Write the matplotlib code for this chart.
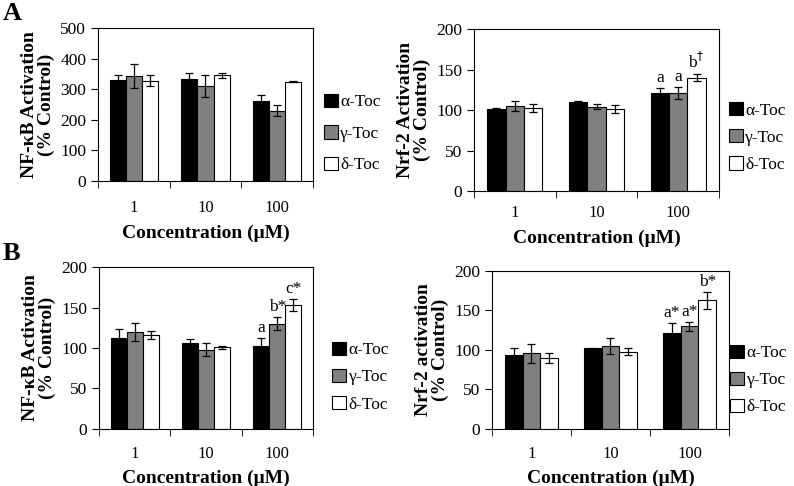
import matplotlib.pyplot as plt
import numpy as np
from matplotlib.ticker import FixedLocator, NullFormatter

plt.rcParams["font.family"] = ["Liberation Serif", "DejaVu Serif"]

concentrations = ["1", "10", "100"]
series = ["α-Toc", "γ-Toc", "δ-Toc"]
colors = ["black", "#808080", "white"]

# panel A, NF-kB
a_nfkb = [[330, 333, 260], [343, 310, 230], [327, 345, 325]]
a_nfkb_err = [[17, 20, 20], [40, 37, 18], [18, 7, 3]]
# panel A, Nrf-2
a_nrf2 = [[101, 110, 121], [105, 104, 121], [103, 101, 140]]
a_nrf2_err = [[1, 1, 6], [6, 3, 7], [5, 5, 4]]
a_nrf2_marks = [[None, None, "a"], [None, None, "a"], [None, None, "b$^{\\dagger}$"]]
# panel B, NF-kB
b_nfkb = [[112, 106, 102], [120, 98, 130], [116, 101, 153]]
b_nfkb_err = [[11, 5, 10], [11, 8, 8], [5, 2, 7]]
b_nfkb_marks = [[None, None, "a"], [None, None, "b*"], [None, None, "c*"]]
# panel B, Nrf-2
b_nrf2 = [[94, 102, 122], [96, 105, 130], [90, 98, 163]]
b_nrf2_err = [[8, 1, 12], [12, 10, 6], [6, 4, 11]]
b_nrf2_marks = [[None, None, "a*"], [None, None, "a*"], [None, None, "b*"]]


def panel(fig, rect, vals, errs, ymax, nticks, ylabel, marks=None,
          leg_x=1.05, leg_y=0.32, leg_space=0.6, xpad=12):
    ax = fig.add_axes(rect)
    x = np.arange(len(concentrations))
    w = 0.225
    for i in range(3):
        xs = x + (i - 1) * w
        ax.bar(xs, vals[i], w, color=colors[i], edgecolor="black", linewidth=0.8,
               label=series[i], zorder=2)
        ax.errorbar(xs, vals[i], yerr=errs[i], fmt="none", ecolor="black",
                    elinewidth=0.9, capsize=3, capthick=0.9, zorder=3)
        if marks:
            for j, m in enumerate(marks[i]):
                if m:
                    ax.text(xs[j], vals[i][j] + errs[i][j] + ymax * 0.012, m,
                            ha="center", va="bottom", fontsize=12.5)
    ax.set_xlim(-0.5, 2.5)
    ax.set_ylim(0, ymax)
    ax.set_yticks(np.linspace(0, ymax, nticks))
    ax.set_xticks(x)
    ax.set_xticklabels(concentrations, fontsize=12)
    ax.xaxis.set_minor_locator(FixedLocator([-0.5, 0.5, 1.5, 2.5]))
    ax.xaxis.set_minor_formatter(NullFormatter())
    ax.tick_params(axis="x", which="major", length=0, pad=xpad)
    ax.tick_params(axis="x", which="minor", length=5, direction="out")
    ax.tick_params(axis="y", length=5, direction="out", labelsize=12.5)
    ax.set_xlabel("Concentration (μM)", fontsize=14, fontweight="bold", labelpad=6)
    ax.set_ylabel(ylabel, fontsize=14, fontweight="bold", linespacing=0.95,
                  labelpad=4)
    for s in ax.spines.values():
        s.set_linewidth(0.8)
    ax.legend(loc="center left", bbox_to_anchor=(leg_x, leg_y), frameon=False,
              handlelength=0.8, handleheight=0.8, handletextpad=0.15,
              labelspacing=leg_space, fontsize=12.5, borderpad=0,
              borderaxespad=0)
    return ax


fig = plt.figure(figsize=(7.94, 4.86), dpi=100)

panel(fig, [0.1234, 0.6276, 0.2708, 0.3148], a_nfkb, a_nfkb_err, 500, 6,
      "NF-κB Activation\n(% Control)", leg_x=1.05, leg_y=0.31, leg_space=0.85,
      xpad=14)
panel(fig, [0.597, 0.607, 0.3086, 0.3333], a_nrf2, a_nrf2_err, 200, 5,
      "Nrf-2 Activation\n(% Control)", a_nrf2_marks, leg_x=1.04, leg_y=0.33,
      xpad=10)
panel(fig, [0.1247, 0.1173, 0.2695, 0.3333], b_nfkb, b_nfkb_err, 200, 5,
      "NF-κB Activation\n(% Control)", b_nfkb_marks, leg_x=1.09, leg_y=0.32,
      xpad=12)
panel(fig, [0.6196, 0.1173, 0.2985, 0.3251], b_nrf2, b_nrf2_err, 200, 5,
      "Nrf-2 activation\n(% Control)", b_nrf2_marks, leg_x=1.005, leg_y=0.31,
      xpad=12)

fig.text(0.003, 0.995, "A", fontsize=19, fontweight="bold", va="top")
fig.text(0.003, 0.502, "B", fontsize=19, fontweight="bold", va="top")

fig.savefig("out.png", dpi=100)
